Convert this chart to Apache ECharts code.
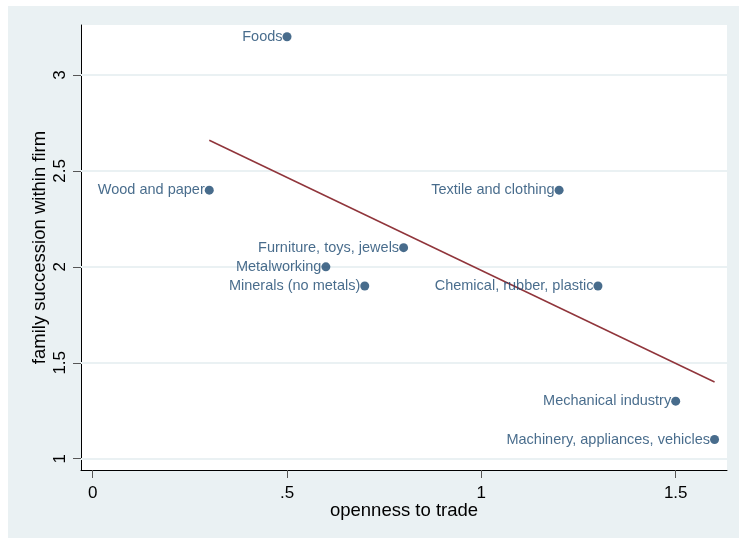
<!DOCTYPE html>
<html>
<head>
<meta charset="utf-8">
<script src="https://cdn.jsdelivr.net/npm/echarts@6/dist/echarts.min.js"></script>
<style>
  html, body { margin: 0; padding: 0; background: #fff; }
  #chart { width: 739px; height: 538px; }
</style>
</head>
<body>
<div id="chart"></div>
<script>
// Sector averages: openness to trade vs. family succession within firm
const sectors = [
  'Foods', 'Wood and paper', 'Textile and clothing', 'Furniture, toys, jewels',
  'Metalworking', 'Minerals (no metals)', 'Chemical, rubber, plastic',
  'Mechanical industry', 'Machinery, appliances, vehicles'
];
const openness   = [0.5, 0.3, 1.2, 0.8, 0.6, 0.7, 1.3, 1.5, 1.6];
const succession = [3.2, 2.4, 2.4, 2.1, 2.0, 1.9, 1.9, 1.3, 1.1];

// Fitted values of the linear regression, at the ends of the x range
const fitX = [0.3, 1.6];
const fitY = [2.66, 1.40];

// Axis ticks
const xTicks = [0, 0.5, 1, 1.5];
const yTicks = [1, 1.5, 2, 2.5, 3];

const navy = '#1a476f';
const maroon = '#90353b';
const font = 'Liberation Sans, Arial, sans-serif';

const fmt = v => {
  const s = String(v);
  return s.startsWith('0.') ? s.slice(1) : s;
};

const chart = echarts.init(document.getElementById('chart'), null, { renderer: 'canvas' });

chart.setOption({
  backgroundColor: '#ffffff',
  animation: false,
  graphic: [{
    type: 'rect',
    z: -100,
    shape: { x: 8, y: 6, width: 731, height: 532 },
    style: { fill: '#eaf1f3' }
  }],
  grid: {
    left: 81, top: 25, right: 12, bottom: 68,
    show: true, backgroundColor: '#ffffff', borderWidth: 0
  },
  xAxis: {
    type: 'value',
    min: -0.030, max: 1.632,
    name: 'openness to trade',
    nameLocation: 'middle',
    nameMoveOverlap: false,
    nameGap: 31,
    nameTextStyle: { fontFamily: font, fontSize: 18.5, color: '#000' },
    axisLine: { show: true, onZero: false, lineStyle: { color: '#000', width: 1 } },
    axisTick: { show: true, length: 8, customValues: xTicks, lineStyle: { color: '#555' } },
    axisLabel: {
      customValues: xTicks, formatter: fmt, margin: 15,
      fontFamily: font, fontSize: 17, color: '#000'
    },
    splitLine: { show: false }
  },
  yAxis: {
    type: 'value',
    min: 0.941, max: 3.261,
    name: 'family succession within firm',
    nameLocation: 'middle',
    nameMoveOverlap: false,
    nameGap: 32,
    nameTextStyle: { fontFamily: font, fontSize: 18.5, color: '#000' },
    axisLine: { show: true, onZero: false, lineStyle: { color: '#000', width: 1 } },
    axisTick: { show: true, length: 8, customValues: yTicks, lineStyle: { color: '#555' } },
    axisLabel: {
      customValues: yTicks, formatter: fmt, rotate: 90, margin: 12,
      fontFamily: font, fontSize: 17, color: '#000'
    },
    splitLine: { show: false }
  },
  series: [
    {
      // horizontal grid lines at the y ticks
      type: 'line',
      data: [],
      silent: true,
      z: 1,
      markLine: {
        z: 1,
        symbol: 'none',
        silent: true,
        label: { show: false },
        lineStyle: { color: '#eaf1f3', width: 2, type: 'solid' },
        data: yTicks.map(v => ({ yAxis: v }))
      }
    },
    {
      type: 'line',
      data: fitX.map((x, i) => [x, fitY[i]]),
      symbol: 'none',
      lineStyle: { color: maroon, width: 1.5 },
      z: 2
    },
    {
      type: 'scatter',
      symbol: 'circle',
      symbolSize: 9,
      itemStyle: { color: navy },
      data: openness.map((x, i) => ({ value: [x, succession[i]], name: sectors[i] })),
      label: {
        show: true,
        position: 'left',
        distance: 0,
        formatter: p => p.name,
        fontFamily: font,
        fontSize: 14.5,
        color: navy
      },
      z: 3
    }
  ]
});
</script>
</body>
</html>
